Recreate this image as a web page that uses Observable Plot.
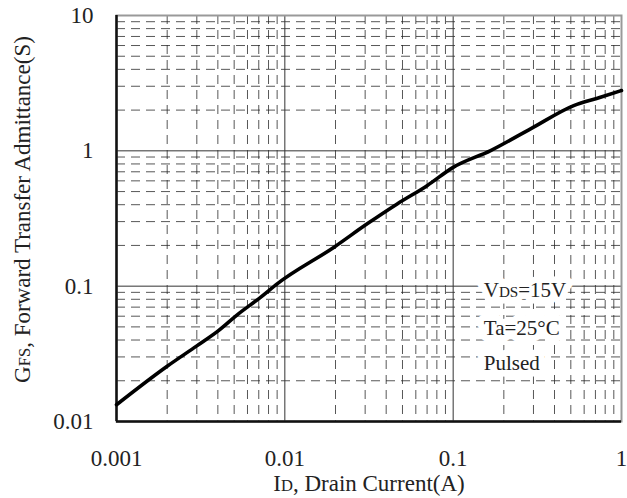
<!DOCTYPE html>
<html><head><meta charset="utf-8">
<script src="https://cdn.jsdelivr.net/npm/d3@7"></script>
<script src="https://cdn.jsdelivr.net/npm/@observablehq/plot@0.6"></script>
<style>body{margin:0;background:#fff}</style>
</head><body><div id="chart"></div>
<script>
// Data
const currentA = [0.001, 0.002, 0.003, 0.004, 0.0053, 0.0072, 0.009, 0.0196, 0.031, 0.0465, 0.07, 0.1, 0.167, 0.29, 0.52, 0.75, 1];
const gfsS     = [0.0133, 0.0256, 0.0362, 0.0465, 0.0624, 0.083, 0.104, 0.194, 0.29, 0.405, 0.553, 0.755, 1.005, 1.46, 2.16, 2.49, 2.79];

const xTicks = [0.001, 0.01, 0.1, 1];
const xTickLabels = ["0.001", "0.01", "0.1", "1"];
const yTicks = [0.01, 0.1, 1, 10];
const yTickLabels = ["0.01", "0.1", "1", "10"];

const notes = ["VDS=15V", "Ta=25°C", "Pulsed"];
const noteY = [0.0928, 0.0486, 0.0268];
const noteX = 0.152;

const xLabel = "ID, Drain Current(A)";
const yLabel = "GFS, Forward Transfer Admittance(S)";

const minorMult = [2, 3, 4, 5, 6, 7, 8, 9];
const minorX = xTicks.slice(0, -1).flatMap(d => minorMult.map(m => d * m));
const minorY = yTicks.slice(0, -1).flatMap(d => minorMult.map(m => d * m));

const data = currentA.map((x, i) => ({x, y: gfsS[i]}));
const noteData = notes.map((t, i) => ({t, x: noteX, y: noteY[i]}));
const xFmt = new Map(xTicks.map((d, i) => [d, xTickLabels[i]]));
const yFmt = new Map(yTicks.map((d, i) => [d, yTickLabels[i]]));

const font = "'Liberation Serif', 'Times New Roman', serif";

const plot = Plot.plot({
  width: 627,
  height: 498,
  marginLeft: 116,
  marginRight: 6,
  marginTop: 15,
  marginBottom: 77,
  style: {fontFamily: font, fontSize: "23px", background: "#fff", color: "#222"},
  x: {type: "log", domain: [0.001, 1], label: null},
  y: {type: "log", domain: [0.01, 10], label: null},
  marks: [
    Plot.gridX(minorX, {stroke: "#222", strokeOpacity: 0.85, strokeWidth: 0.9, strokeDasharray: "9,6"}),
    Plot.gridY(minorY, {stroke: "#222", strokeOpacity: 0.85, strokeWidth: 0.9, strokeDasharray: "9,6"}),
    Plot.gridX(xTicks, {stroke: "#333", strokeOpacity: 1, strokeWidth: 1}),
    Plot.gridY(yTicks, {stroke: "#333", strokeOpacity: 1, strokeWidth: 1}),
    Plot.axisX(xTicks, {tickFormat: d => xFmt.get(d), tickSize: 0, tickPadding: 28, fontSize: 23, label: null}),
    Plot.axisY(yTicks, {tickFormat: d => yFmt.get(d), tickSize: 0, tickPadding: 23, fontSize: 23, label: null}),
    Plot.frame({stroke: "#999", strokeWidth: 2}),
    Plot.ruleX([0.001], {stroke: "#111", strokeWidth: 2.5}),
    Plot.ruleY([0.01], {stroke: "#111", strokeWidth: 2.5}),
    Plot.text(noteData, {x: "x", y: "y", text: "t", textAnchor: "start", fontSize: 21, fill: "#fff", stroke: "#fff", strokeWidth: 13}),
    Plot.text(noteData, {x: "x", y: "y", text: "t", textAnchor: "start", fontSize: 21, fill: "#222"}),
    Plot.line(data, {x: "x", y: "y", stroke: "#000", strokeWidth: 3.6, curve: "monotone-x"}),
    Plot.text([xLabel], {frameAnchor: "bottom", textAnchor: "middle", lineAnchor: "middle", dy: 62, fontSize: 23, fill: "#222"}),
    Plot.text([yLabel], {frameAnchor: "left", textAnchor: "middle", lineAnchor: "middle", rotate: -90, dx: -94, dy: -9, fontSize: 23, fill: "#222"})
  ]
});

const subs = {
  "ID, Drain Current(A)": [["I", 0], ["D", 1], [", Drain Current(A)", 0]],
  "GFS, Forward Transfer Admittance(S)": [["G", 0], ["FS", 1], [", Forward Transfer Admittance(S)", 0]],
  "VDS=15V": [["V", 0], ["DS", 1], ["=15V", 0]]
};
plot.querySelectorAll("text").forEach(t => {
  const parts = subs[t.textContent];
  if (!parts) return;
  t.textContent = "";
  for (const [s, small] of parts) {
    const ts = document.createElementNS("http://www.w3.org/2000/svg", "tspan");
    ts.textContent = s;
    if (small) ts.setAttribute("font-size", "0.72em");
    t.appendChild(ts);
  }
});

document.getElementById("chart").appendChild(plot);
</script>
</body></html>
